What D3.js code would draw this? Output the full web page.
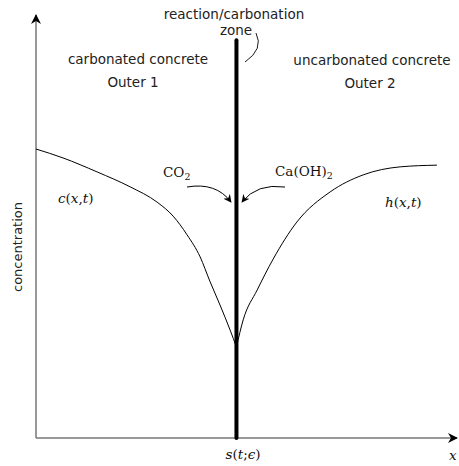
<!DOCTYPE html>
<html><head><meta charset="utf-8">
<script src="https://cdn.jsdelivr.net/npm/d3@7"></script>
<style>body{margin:0;background:#fff;overflow:hidden}svg{display:block}</style>
</head><body>
<script>
// ---- data (x and concentration in arbitrary units) ----
const interfaceX = 4.75;
const cX = [0, 0.64, 1.45, 2.23, 2.87, 3.25, 3.58, 3.89, 4.12, 4.36, 4.60, 4.75];
const cY = [6.80, 6.59, 6.26, 5.91, 5.55, 5.22, 4.78, 4.26, 3.69, 3.13, 2.54, 2.14];
const hX = [4.75, 4.91, 5.24, 5.62, 6.18, 6.97, 7.75, 8.63, 9.50];
const hY = [2.14, 2.78, 3.48, 4.21, 5.08, 5.79, 6.19, 6.38, 6.42];
const zoneTop = 9.36;
const regionLabels = ["carbonated concrete", "Outer 1", "uncarbonated concrete", "Outer 2"];
const zoneLabel = ["reaction/carbonation", "zone"];
const yLabel = "concentration";

const W = 459, H = 466;
const x = d3.scaleLinear().domain([0, 10]).range([36, 458]);
const y = d3.scaleLinear().domain([0, 10]).range([438, 13]);

const svg = d3.select("body").append("svg").attr("width", W).attr("height", H);
const defs = svg.append("defs");
defs.append("marker").attr("id", "ah").attr("viewBox", "0 0 10 10").attr("refX", 9).attr("refY", 5)
  .attr("markerWidth", 10).attr("markerHeight", 10).attr("markerUnits", "userSpaceOnUse").attr("orient", "auto")
  .append("path").attr("d", "M0,0 L10,5 L0,10 L3,5 Z").attr("fill", "#000");
defs.append("marker").attr("id", "ahs").attr("viewBox", "0 0 10 10").attr("refX", 9).attr("refY", 5)
  .attr("markerWidth", 8).attr("markerHeight", 8).attr("markerUnits", "userSpaceOnUse").attr("orient", "auto")
  .append("path").attr("d", "M0,0 L10,5 L0,10 L3,5 Z").attr("fill", "#000");

// axes
svg.append("line").attr("x1", x(0)).attr("y1", y(0)).attr("x2", x(0)).attr("y2", y(10) + 2)
  .attr("stroke", "#777").attr("stroke-width", 1.5).attr("marker-end", "url(#ah)");
svg.append("line").attr("x1", x(0)).attr("y1", y(0)).attr("x2", x(10) - 1).attr("y2", y(0))
  .attr("stroke", "#777").attr("stroke-width", 1.5).attr("marker-end", "url(#ah)");

// curves
const line = d3.line().x(d => x(d[0])).y(d => y(d[1])).curve(d3.curveMonotoneX);
svg.append("path").attr("d", line(cX.map((v, i) => [v, cY[i]])))
  .attr("fill", "none").attr("stroke", "#000").attr("stroke-width", 1);
svg.append("path").attr("d", line(hX.map((v, i) => [v, hY[i]])))
  .attr("fill", "none").attr("stroke", "#000").attr("stroke-width", 1);

// reaction zone (thick line)
svg.append("line").attr("x1", x(interfaceX)).attr("y1", y(0)).attr("x2", x(interfaceX)).attr("y2", y(zoneTop))
  .attr("stroke", "#000").attr("stroke-width", 4).attr("stroke-linecap", "round");

// bracket for zone label
svg.append("path").attr("d", "M256,33 Q264,49 245,62").attr("fill", "none").attr("stroke", "#000").attr("stroke-width", 0.9);

// reactant arrows
svg.append("path").attr("d", "M187,187 Q216,182 231,202").attr("fill", "none").attr("stroke", "#000")
  .attr("stroke-width", 1).attr("marker-end", "url(#ahs)");
svg.append("path").attr("d", "M285,187 Q257,183 242,202").attr("fill", "none").attr("stroke", "#000")
  .attr("stroke-width", 1).attr("marker-end", "url(#ahs)");

// sans text
const sans = "DejaVu Sans, sans-serif";
function st(t, px, py, size) {
  return svg.append("text").attr("x", px).attr("y", py).attr("text-anchor", "middle")
    .attr("font-family", sans).attr("font-size", size || 13.5).attr("fill", "#222").text(t);
}
st(zoneLabel[0], 234, 19);
st(zoneLabel[1], 236, 35);
st(regionLabels[0], 138, 64);
st(regionLabels[1], 133, 87);
st(regionLabels[2], 372, 65);
st(regionLabels[3], 370, 88);
svg.append("text").attr("transform", "translate(22,247) rotate(-90)").attr("text-anchor", "middle")
  .attr("font-family", sans).attr("font-size", 13).attr("fill", "#222").text(yLabel);

// math text
const serif = "DejaVu Serif, serif";
function mt(parts, px, py, size, anchor) {
  const fs = size || 13.5;
  const t = svg.append("text").attr("x", px).attr("y", py).attr("font-family", serif)
    .attr("font-size", fs).attr("fill", "#111").attr("text-anchor", anchor || "start");
  parts.forEach(p => {
    const s = t.append("tspan").text(p[0]);
    if (p[1] === "i") s.attr("font-style", "italic");
    if (p[1] === "sub") s.attr("font-size", fs * 0.7).attr("dy", 3);
  });
  return t;
}
mt([["c", "i"], ["("], ["x", "i"], [","], ["t", "i"], [")"]], 58, 203);
mt([["h", "i"], ["("], ["x", "i"], [","], ["t", "i"], [")"]], 385, 207);
mt([["CO"], ["2", "sub"]], 163, 177);
mt([["Ca(OH)"], ["2", "sub"]], 275, 176);
mt([["s", "i"], ["("], ["t", "i"], [";"], ["ϵ", "i"], [")"]], 243, 459, 13.5, "middle");
mt([["x", "i"]], 449, 460);
</script>
</body></html>
